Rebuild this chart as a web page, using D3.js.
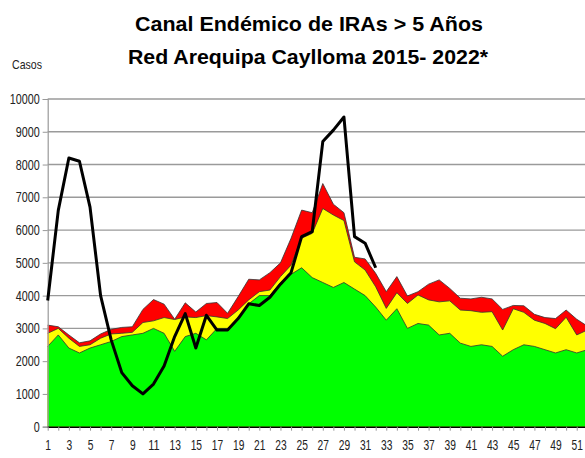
<!DOCTYPE html>
<html>
<head>
<meta charset="utf-8">
<script src="https://cdn.jsdelivr.net/npm/d3@7"></script>
<style>
  body { margin: 0; background: #fff; }
  svg { display: block; }
  .tick text { font-family: "Liberation Sans", Arial, sans-serif; fill: #222; }
</style>
</head>
<body>
<script>
// semanas epidemiologicas
var semanas = d3.range(1, 53);
var yTicks = [0, 1000, 2000, 3000, 4000, 5000, 6000, 7000, 8000, 9000, 10000];

// limites del canal endemico (valores acumulados)
var exito = [2450, 2800, 2400, 2250, 2400, 2500, 2600, 2750, 2800, 2850, 3000, 2850, 2300, 2750, 2850, 2650,
  3000, 3000, 3300, 3750, 4000, 4000, 4400, 4650, 4850, 4550, 4400, 4250, 4400, 4200, 4000, 3650,
  3250, 3600, 3000, 3150, 3100, 2800, 2850, 2550, 2450, 2500, 2450, 2150, 2350, 2500, 2450, 2350,
  2250, 2350, 2250, 2350];
var seguridad = [2850, 3000, 2700, 2450, 2500, 2700, 2830, 2850, 2880, 3180, 3230, 3330, 3270, 3350, 3330, 3390,
  3350, 3300, 3560, 3870, 4120, 4170, 4580, 4930, 5750, 5900, 6660, 6460, 6290, 5030, 4780, 4270,
  3610, 4090, 3760, 4020, 3870, 3810, 3840, 3560, 3540, 3490, 3510, 2950, 3600, 3490, 3250, 3150,
  2990, 3340, 2800, 2950];
var alarma = [3100, 3050, 2800, 2560, 2620, 2830, 2970, 3030, 3050, 3580, 3880, 3740, 3280, 3780, 3500, 3760,
  3790, 3460, 3970, 4500, 4480, 4700, 5000, 5750, 6610, 6530, 7420, 6790, 6530, 5170, 5120, 4680,
  4120, 4580, 3990, 4120, 4350, 4480, 4220, 3920, 3900, 3950, 3900, 3580, 3700, 3690, 3430, 3330,
  3300, 3560, 3280, 3070];

// casos 2022 (hasta la semana 32)
var casos2022 = [3850, 6600, 8200, 8100, 6700, 4000, 2650, 1650, 1250, 1000, 1300, 1850, 2750, 3450, 2400, 3400,
  2950, 2950, 3300, 3750, 3700, 3950, 4350, 4700, 5800, 5950, 8700, 9050, 9450, 5800, 5600, 4850];

var width = 585, height = 458;

var svg = d3.select("body").append("svg")
  .attr("width", width)
  .attr("height", height);

var x = d3.scaleLinear().domain([1, 52]).range([47.7, 587.3]);
var y = d3.scaleLinear().domain([0, 10000]).range([426.7, 99]);

// lineas de la grilla (detras de las areas)
svg.append("g")
  .selectAll("line")
  .data(yTicks.slice(1))
  .join("line")
  .attr("x1", x(1))
  .attr("x2", width)
  .attr("y1", (d) => y(d))
  .attr("y2", (d) => y(d))
  .attr("stroke", "#9a9a9a")
  .attr("stroke-width", 1.4);

var bandas = [
  { valores: alarma, color: "#ff0000" },
  { valores: seguridad, color: "#ffff00" },
  { valores: exito, color: "#00ff00" }
];

var area = d3.area()
  .x((d, i) => x(semanas[i]))
  .y0(y(0))
  .y1((d) => y(d));

var lineaBorde = d3.line()
  .x((d, i) => x(semanas[i]))
  .y((d) => y(d));

bandas.forEach(function (b) {
  svg.append("path")
    .datum(b.valores)
    .attr("d", area)
    .attr("fill", b.color);
  svg.append("path")
    .datum(b.valores)
    .attr("d", lineaBorde)
    .attr("fill", "none")
    .attr("stroke", "#333")
    .attr("stroke-width", 0.8);
});

// eje Y
var yAxis = svg.append("g")
  .attr("transform", `translate(${x(1)},0)`)
  .call(d3.axisLeft(y).tickValues(yTicks).tickSize(5).tickPadding(3).tickFormat(d3.format("d")));
yAxis.select(".domain").attr("stroke", "#999").attr("stroke-width", 1.2);
yAxis.selectAll(".tick line").attr("stroke", "#999");
// letra angosta como en el original
yAxis.selectAll(".tick text")
  .attr("font-size", 14)
  .attr("lengthAdjust", "spacingAndGlyphs")
  .attr("textLength", (d) => String(d).length * 6);

// eje X
var xAxis = svg.append("g")
  .attr("transform", `translate(0,${y(0)})`)
  .call(d3.axisBottom(x).tickValues(semanas).tickSize(4).tickPadding(9)
    .tickFormat((d) => (d % 2 === 1 ? d : "")));
xAxis.select(".domain").attr("stroke", "#000").attr("stroke-width", 1.5).attr("d", `M${x(1)},0.5H${width}`);
xAxis.selectAll(".tick line").attr("stroke", "#999");
xAxis.selectAll(".tick text")
  .filter((d) => d % 2 === 1)
  .attr("font-size", 14)
  .attr("lengthAdjust", "spacingAndGlyphs")
  .attr("textLength", (d) => String(d).length * 5.7);

// casos 2022
svg.append("path")
  .datum(casos2022)
  .attr("d", lineaBorde)
  .attr("fill", "none")
  .attr("stroke", "#000")
  .attr("stroke-width", 3)
  .attr("stroke-linejoin", "round");

// titulo
var titulo = svg.append("g")
  .attr("font-family", "'Liberation Sans', Arial, sans-serif")
  .attr("font-weight", "bold")
  .attr("font-size", 21)
  .attr("text-anchor", "middle")
  .attr("fill", "#000");
titulo.append("text")
  .attr("x", 309).attr("y", 31)
  .attr("textLength", 348).attr("lengthAdjust", "spacingAndGlyphs")
  .text("Canal Endémico de IRAs > 5 Años");
titulo.append("text")
  .attr("x", 308).attr("y", 64)
  .attr("textLength", 360).attr("lengthAdjust", "spacingAndGlyphs")
  .text("Red Arequipa Caylloma 2015- 2022*");

svg.append("text")
  .attr("x", 12).attr("y", 69)
  .attr("font-family", "'Liberation Sans', Arial, sans-serif")
  .attr("font-size", 13)
  .attr("fill", "#222")
  .attr("textLength", 30).attr("lengthAdjust", "spacingAndGlyphs")
  .text("Casos");
</script>
</body>
</html>
